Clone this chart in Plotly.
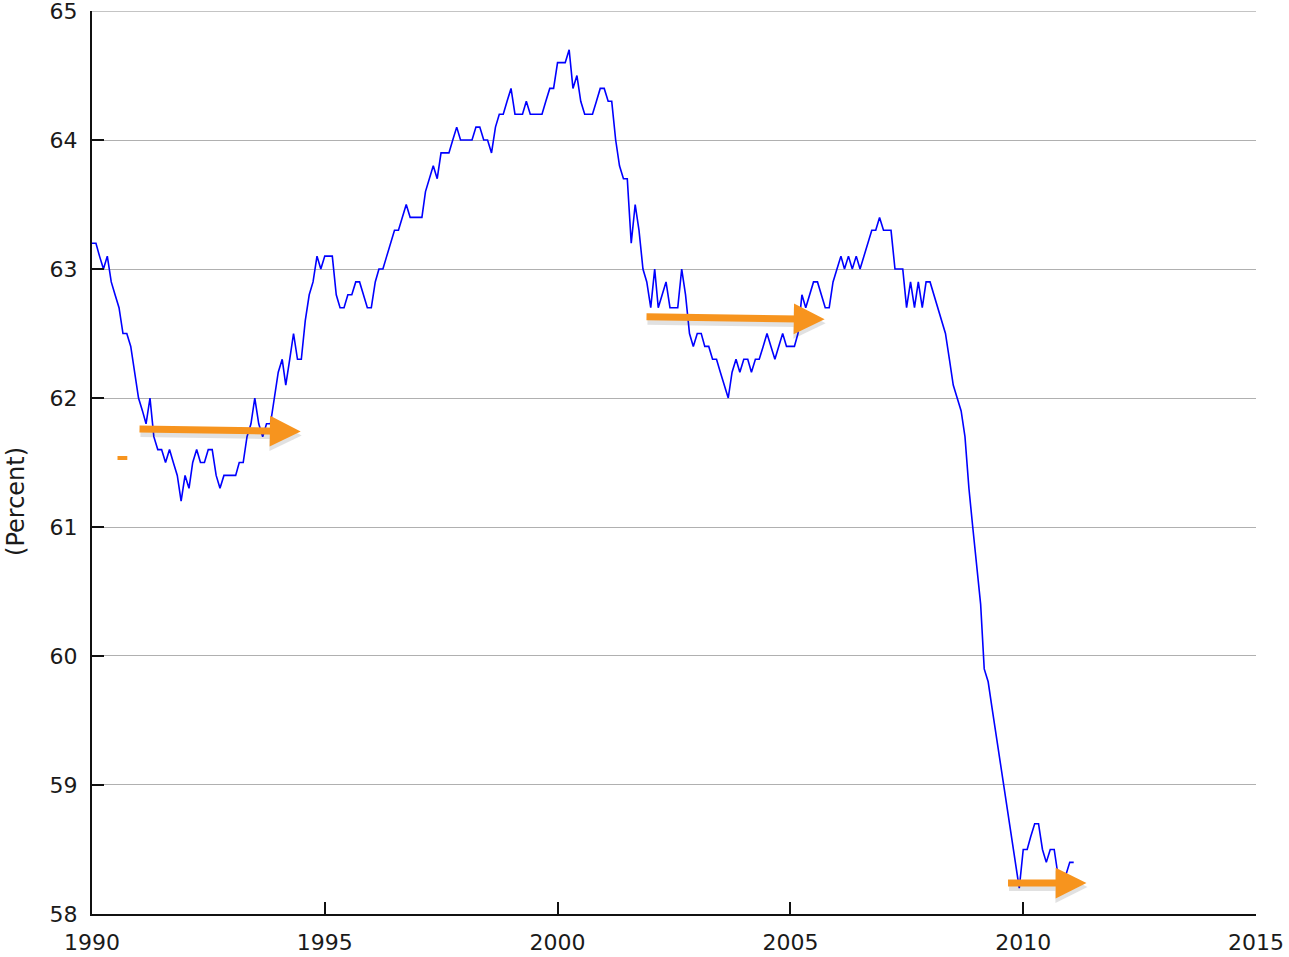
import pandas as pd
import plotly.graph_objects as go

# Employment-population ratio, monthly, Jan 1990 - Feb 2011 (percent)
y1990 = [63.2, 63.2, 63.1, 63.0, 63.1, 62.9, 62.8, 62.7, 62.5, 62.5, 62.4, 62.2]
y1991 = [62.0, 61.9, 61.8, 62.0, 61.7, 61.6, 61.6, 61.5, 61.6, 61.5, 61.4, 61.2]
y1992 = [61.4, 61.3, 61.5, 61.6, 61.5, 61.5, 61.6, 61.6, 61.4, 61.3, 61.4, 61.4]
y1993 = [61.4, 61.4, 61.5, 61.5, 61.7, 61.8, 62.0, 61.8, 61.7, 61.8, 61.8, 62.0]
y1994 = [62.2, 62.3, 62.1, 62.3, 62.5, 62.3, 62.3, 62.6, 62.8, 62.9, 63.1, 63.0]
y1995 = [63.1, 63.1, 63.1, 62.8, 62.7, 62.7, 62.8, 62.8, 62.9, 62.9, 62.8, 62.7]
y1996 = [62.7, 62.9, 63.0, 63.0, 63.1, 63.2, 63.3, 63.3, 63.4, 63.5, 63.4, 63.4]
y1997 = [63.4, 63.4, 63.6, 63.7, 63.8, 63.7, 63.9, 63.9, 63.9, 64.0, 64.1, 64.0]
y1998 = [64.0, 64.0, 64.0, 64.1, 64.1, 64.0, 64.0, 63.9, 64.1, 64.2, 64.2, 64.3]
y1999 = [64.4, 64.2, 64.2, 64.2, 64.3, 64.2, 64.2, 64.2, 64.2, 64.3, 64.4, 64.4]
y2000 = [64.6, 64.6, 64.6, 64.7, 64.4, 64.5, 64.3, 64.2, 64.2, 64.2, 64.3, 64.4]
y2001 = [64.4, 64.3, 64.3, 64.0, 63.8, 63.7, 63.7, 63.2, 63.5, 63.3, 63.0, 62.9]
y2002 = [62.7, 63.0, 62.7, 62.8, 62.9, 62.7, 62.7, 62.7, 63.0, 62.8, 62.5, 62.4]
y2003 = [62.5, 62.5, 62.4, 62.4, 62.3, 62.3, 62.2, 62.1, 62.0, 62.2, 62.3, 62.2]
y2004 = [62.3, 62.3, 62.2, 62.3, 62.3, 62.4, 62.5, 62.4, 62.3, 62.4, 62.5, 62.4]
y2005 = [62.4, 62.4, 62.5, 62.8, 62.7, 62.8, 62.9, 62.9, 62.8, 62.7, 62.7, 62.9]
y2006 = [63.0, 63.1, 63.0, 63.1, 63.0, 63.1, 63.0, 63.1, 63.2, 63.3, 63.3, 63.4]
y2007 = [63.3, 63.3, 63.3, 63.0, 63.0, 63.0, 62.7, 62.9, 62.7, 62.9, 62.7, 62.9]
y2008 = [62.9, 62.8, 62.7, 62.6, 62.5, 62.3, 62.1, 62.0, 61.9, 61.7, 61.3, 61.0]
y2009 = [60.7, 60.4, 59.9, 59.8, 59.6, 59.4, 59.2, 59.0, 58.8, 58.6, 58.4, 58.2]
y2010 = [58.5, 58.5, 58.6, 58.7, 58.7, 58.5, 58.4, 58.5, 58.5, 58.3, 58.3, 58.3]
y2011 = [58.4, 58.4]

values = (y1990 + y1991 + y1992 + y1993 + y1994 + y1995 + y1996 + y1997 + y1998
          + y1999 + y2000 + y2001 + y2002 + y2003 + y2004 + y2005 + y2006 + y2007
          + y2008 + y2009 + y2010 + y2011)
dates = pd.date_range("1990-01-01", periods=len(values), freq="MS")

y_ticks = [58, 59, 60, 61, 62, 63, 64, 65]
x_tick_years = [1990, 1995, 2000, 2005, 2010, 2015]

ORANGE = "#F7941E"
FONT = "DejaVu Sans"
TXT = "#1a1a1a"
GRID = "#b0b0b0"

fig = go.Figure()
fig.add_trace(go.Scatter(x=dates, y=values, mode="lines",
                         line=dict(color="#0000FF", width=1.6),
                         hoverinfo="skip", showlegend=False))

# arrows: (tail date, tail value, head date, head value)
arrows = [
    ("1990-12-28", 61.76, "1994-06-26", 61.74),
    ("2001-11-17", 62.63, "2005-09-26", 62.61),
    ("2009-08-23", 58.24, "2011-05-12", 58.24),
]
for tx, ty, hx, hy in arrows:
    fig.add_annotation(x=hx, y=hy, ax=tx, ay=ty, xref="x", yref="y",
                       axref="x", ayref="y", text="", showarrow=True,
                       arrowhead=2, arrowwidth=8, arrowsize=0.8,
                       arrowcolor="rgba(60,60,60,0.15)", yshift=-4, xshift=1)
    fig.add_annotation(x=hx, y=hy, ax=tx, ay=ty, xref="x", yref="y",
                       axref="x", ayref="y", text="", showarrow=True,
                       arrowhead=2, arrowwidth=7, arrowsize=0.88,
                       arrowcolor=ORANGE)

# small stray orange dash
fig.add_shape(type="line", x0="1990-07-20", x1="1990-10-05", y0=61.535, y1=61.535,
              xref="x", yref="y", line=dict(color=ORANGE, width=4))

# top gridline (at the edge of the plot area)
fig.add_shape(type="line", x0=0, x1=1, xref="paper", y0=65, y1=65, yref="y",
              line=dict(color=GRID, width=1.3), layer="below")

fig.add_annotation(text="(Percent)", xref="paper", yref="paper", x=-0.0653, y=0.4574,
                   xanchor="center", yanchor="middle", textangle=-90,
                   showarrow=False, font=dict(family=FONT, size=24, color=TXT))

fig.update_layout(
    width=1289, height=957,
    margin=dict(l=92, r=33, t=11, b=43, autoexpand=False),
    paper_bgcolor="white", plot_bgcolor="white",
    font=dict(family=FONT, size=22, color=TXT),
    showlegend=False,
)
fig.update_xaxes(type="date", range=["1990-01-01", "2015-01-01"],
                 tickvals=[f"{y}-01-01" for y in x_tick_years],
                 ticktext=[str(y) for y in x_tick_years],
                 showgrid=False, zeroline=False, automargin=False,
                 showline=True, linecolor="#111111", linewidth=2,
                 ticks="inside", ticklen=12, tickwidth=1.5, tickcolor="#111111",
                 ticklabelstandoff=8, ticklabeloverflow="allow",
                 tickfont=dict(family=FONT, size=22, color=TXT))
fig.update_yaxes(range=[57.9999, 65.0001], tickvals=y_ticks,
                 ticktext=[str(v) for v in y_ticks],
                 showgrid=True, gridcolor=GRID, gridwidth=1.3, zeroline=False,
                 automargin=False,
                 showline=True, linecolor="#111111", linewidth=2,
                 ticks="inside", ticklen=12, tickwidth=1.5, tickcolor="#111111",
                 ticklabelstandoff=8, ticklabeloverflow="allow",
                 tickfont=dict(family=FONT, size=22, color=TXT))

fig.write_html("out.html", config={"displayModeBar": False},
               post_script="document.body.style.margin='0px';document.body.style.overflow='hidden';")
